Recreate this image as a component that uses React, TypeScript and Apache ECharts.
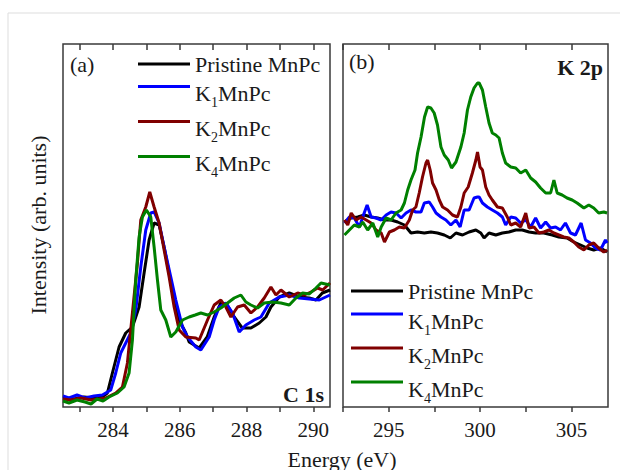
import React, { useEffect, useRef } from 'react';
import * as echarts from 'echarts';

// ---------- data ----------
const seriesNames = ['Pristine MnPc', 'K1MnPc', 'K2MnPc', 'K4MnPc'];

// C 1s panel (energy eV, intensity arb. units)
const c1sPristine: [number, number][] = [
  [282.5, 9], [282.83, 8], [283.13, 10], [283.43, 9], [283.67, 10], [283.83, 14], [283.98, 34],
  [284.18, 60], [284.38, 74], [284.58, 80], [284.78, 100], [284.93, 134], [285.08, 167], [285.23, 184],
  [285.38, 182], [285.53, 160], [285.68, 134], [285.83, 107], [285.98, 87], [286.18, 74], [286.28, 65],
  [286.58, 59], [286.82, 70], [287.03, 90], [287.23, 104], [287.42, 102], [287.63, 90], [287.87, 79],
  [288.13, 79], [288.38, 84], [288.58, 90], [288.73, 100], [288.98, 110], [289.28, 114], [289.58, 110],
  [289.88, 109], [290.08, 107], [290.27, 114], [290.5, 117],
];
const c1sK1: [number, number][] = [
  [282.5, 11], [282.68, 9], [282.92, 12], [283.16, 9], [283.43, 11], [283.68, 12], [283.93, 17],
  [284.08, 34], [284.23, 54], [284.38, 64], [284.53, 74], [284.68, 97], [284.83, 140], [284.98, 177],
  [285.13, 194], [285.23, 195], [285.38, 184], [285.53, 160], [285.73, 130], [285.88, 107], [286.08, 80],
  [286.23, 70], [286.48, 60], [286.63, 57], [286.88, 70], [287.03, 87], [287.18, 100], [287.38, 104],
  [287.58, 94], [287.78, 75], [287.98, 82], [288.23, 87], [288.43, 90], [288.68, 104], [288.98, 110],
  [289.28, 112], [289.58, 109], [289.88, 108], [290.18, 107], [290.5, 112],
];
const c1sK2: [number, number][] = [
  [282.5, 8], [282.74, 7], [283.04, 9], [283.34, 7], [283.58, 8], [283.78, 9], [284.08, 14],
  [284.28, 20], [284.43, 44], [284.58, 94], [284.73, 144], [284.83, 187], [284.98, 200], [285.1, 215],
  [285.23, 200], [285.38, 184], [285.53, 157], [285.68, 130], [285.83, 100], [285.98, 77], [286.18, 70],
  [286.48, 69], [286.58, 67], [286.83, 87], [287.03, 102], [287.23, 107], [287.38, 100], [287.53, 90],
  [287.73, 100], [287.93, 102], [288.13, 94], [288.33, 100], [288.53, 109], [288.73, 120], [288.88, 112],
  [289.03, 117], [289.28, 110], [289.53, 114], [289.73, 112], [289.93, 115], [290.13, 119], [290.28, 117],
  [290.5, 124],
];
const c1sK4: [number, number][] = [
  [282.5, 6], [282.68, 4], [282.92, 7], [283.16, 5], [283.34, 3], [283.52, 8], [283.7, 6], [283.88, 10],
  [284.13, 14], [284.33, 20], [284.48, 34], [284.58, 67], [284.68, 127], [284.78, 170], [284.88, 190],
  [285.0, 197], [285.13, 190], [285.23, 160], [285.33, 127], [285.43, 97], [285.58, 87], [285.73, 70],
  [285.88, 75], [286.08, 87], [286.28, 90], [286.46, 92], [286.63, 94], [286.83, 92], [287.03, 95],
  [287.23, 99], [287.43, 104], [287.63, 109], [287.83, 112], [287.98, 105], [288.13, 102], [288.33, 99],
  [288.53, 104], [288.78, 105], [289.03, 104], [289.28, 102], [289.48, 109], [289.68, 114], [289.88, 113],
  [290.08, 119], [290.23, 124], [290.5, 122],
];

// K 2p panel
const k2pPristine: [number, number][] = [
  [292.58, 185], [292.95, 189], [293.31, 190], [293.67, 192], [294.04, 190], [294.4, 189], [294.77, 187],
  [295.13, 187], [295.49, 185], [295.86, 182], [296.22, 174], [296.58, 175], [296.95, 174], [297.31, 175],
  [297.67, 174], [298.04, 172], [298.37, 169], [298.68, 174], [299.04, 172], [299.4, 175], [299.77, 177],
  [300.04, 174], [300.22, 169], [300.49, 174], [300.86, 172], [301.22, 174], [301.58, 175], [301.95, 177],
  [302.31, 177], [302.68, 175], [303.04, 174], [303.49, 174], [303.95, 172], [304.31, 170], [304.76, 169],
  [305.13, 165], [305.5, 162], [305.86, 159], [306.22, 157], [306.59, 159], [306.95, 155],
];
const k2pK1: [number, number][] = [
  [292.58, 184], [292.85, 190], [293.12, 189], [293.4, 180], [293.58, 190], [293.82, 202], [294.04, 190],
  [294.31, 189], [294.59, 187], [294.86, 192], [295.13, 195], [295.4, 194], [295.68, 189], [295.95, 194],
  [296.22, 197], [296.49, 195], [296.77, 195], [296.95, 204], [297.22, 205], [297.4, 200], [297.59, 194],
  [297.86, 190], [298.13, 187], [298.4, 182], [298.68, 187], [298.91, 180], [299.13, 197], [299.4, 197],
  [299.67, 209], [299.86, 210], [299.95, 210], [300.13, 204], [300.4, 200], [300.67, 197], [300.95, 194],
  [301.22, 190], [301.4, 182], [301.68, 190], [301.95, 189], [302.22, 184], [302.5, 187], [302.77, 180],
  [303.04, 189], [303.31, 179], [303.59, 185], [303.86, 179], [304.13, 180], [304.4, 177], [304.67, 184],
  [304.95, 174], [305.22, 172], [305.53, 184], [305.77, 167], [306.04, 164], [306.31, 159], [306.59, 157],
  [306.86, 167], [306.95, 164],
];
const k2pK2: [number, number][] = [
  [292.58, 187], [292.76, 182], [292.95, 194], [293.22, 187], [293.49, 190], [293.77, 187], [294.04, 184],
  [294.31, 177], [294.59, 174], [294.77, 165], [295.04, 175], [295.31, 177], [295.58, 180], [295.86, 179],
  [296.13, 187], [296.31, 197], [296.49, 200], [296.67, 214], [296.85, 230], [297.04, 244], [297.13, 247],
  [297.27, 237], [297.4, 224], [297.59, 217], [297.77, 207], [297.95, 200], [298.22, 197], [298.49, 192],
  [298.76, 190], [298.95, 200], [299.13, 214], [299.35, 220], [299.58, 234], [299.77, 247], [299.86, 255],
  [300.0, 240], [300.13, 237], [300.31, 220], [300.49, 212], [300.67, 207], [300.95, 200], [301.22, 199],
  [301.49, 190], [301.68, 182], [301.95, 184], [302.22, 180], [302.5, 194], [302.68, 179], [302.95, 180],
  [303.22, 174], [303.49, 175], [303.77, 177], [304.04, 174], [304.31, 172], [304.58, 170], [304.86, 169],
  [305.13, 165], [305.4, 160], [305.68, 157], [305.95, 162], [306.22, 164], [306.49, 159], [306.77, 155],
  [306.95, 157],
];
const k2pK4: [number, number][] = [
  [292.58, 172], [292.85, 177], [293.12, 182], [293.4, 180], [293.58, 185], [293.85, 177], [294.13, 184],
  [294.4, 170], [294.59, 180], [294.86, 189], [295.13, 187], [295.4, 194], [295.68, 197], [295.86, 204],
  [296.04, 217], [296.22, 227], [296.44, 237], [296.58, 254], [296.77, 270], [296.96, 290], [297.13, 300],
  [297.31, 299], [297.49, 294], [297.67, 282], [297.86, 260], [298.04, 252], [298.26, 247], [298.44, 239],
  [298.68, 245], [298.95, 260], [299.13, 274], [299.31, 297], [299.49, 310], [299.67, 319], [299.86, 324],
  [299.95, 324], [300.13, 317], [300.31, 300], [300.49, 284], [300.67, 274], [300.86, 272], [301.04, 269],
  [301.22, 254], [301.4, 244], [301.68, 240], [301.95, 239], [302.22, 234], [302.5, 237], [302.77, 229],
  [303.04, 225], [303.31, 219], [303.59, 214], [303.86, 214], [304.04, 227], [304.22, 214], [304.49, 212],
  [304.76, 209], [305.04, 207], [305.31, 204], [305.68, 199], [305.95, 202], [306.22, 199], [306.49, 194],
  [306.77, 195], [306.95, 194],
];

// axes
const c1sRange = [282.5, 290.5];
const c1sLabelValues = [284, 286, 288, 290];
const c1sTickValues = [283, 284, 285, 286, 287, 288, 289, 290];
const k2pRange = [292.5, 307];
const k2pLabelValues = [295, 300, 305];
const k2pTickValues = [292.5, 295, 297.5, 300, 302.5, 305];
const intensityRange = [0, 363];

// ---------- styles ----------
const colors = ['#000000', '#0000ff', '#800000', '#008000'];
const FONT = 'Liberation Serif';
const TXT = '#1a1a1a';
const FRAME = '#3a3a3a';

export default function App() {
  const ref = useRef<HTMLDivElement>(null);
  useEffect(() => {
    if (!ref.current) return;
    const chart = echarts.init(ref.current, undefined, { renderer: 'svg' });

    const rich = {
      n: { fontSize: 22, lineHeight: 24, fontFamily: FONT, color: TXT },
      k: { fontSize: 22, lineHeight: 24, fontFamily: FONT, color: TXT, verticalAlign: 'top', padding: [8, 0, 0, 0] },
      s: { fontSize: 14, lineHeight: 14, fontFamily: FONT, color: TXT, verticalAlign: 'top', padding: [21, 0, 0, 0] },
    };
    const fmt = (name: string) => {
      const m = name.match(/^K(\d)MnPc$/);
      return m ? `{k|K}{s|${m[1]}}{k|MnPc}` : `{n|${name}}`;
    };
    const legendRow = (name: string, left: number, top: number) => ({
      data: [name],
      left,
      top,
      orient: 'vertical',
      padding: 0,
      itemGap: 0,
      itemWidth: 52,
      itemHeight: 3,
      icon: 'rect',
      selectedMode: false,
      formatter: fmt,
      textStyle: { fontFamily: FONT, fontSize: 22, color: TXT, rich },
    });
    const leftRowsCenter = [65, 92, 127, 162];
    const rightRowsCenter = [292, 319.5, 353.5, 387.5];
    const topOf = (i: number, c: number) => (i === 0 ? c - 12 : c - 17.5);
    const legends = [
      ...seriesNames.map((n, i) => legendRow(n, 138, topOf(i, leftRowsCenter[i]))),
      ...seriesNames.map((n, i) => legendRow(n, 351, topOf(i, rightRowsCenter[i]))),
    ];

    const bottomAxis = (grid: number, range: number[], ticks: number[], labels: number[]) => ({
      type: 'value',
      gridIndex: grid,
      position: 'bottom',
      min: range[0],
      max: range[1],
      axisLine: { show: false },
      splitLine: { show: false },
      axisTick: { show: true, inside: false, length: 5, customValues: ticks, lineStyle: { color: FRAME, width: 1.5 } },
      axisLabel: { show: true, customValues: labels, margin: 12, fontSize: 21, fontFamily: FONT, color: TXT },
    });
    const topAxis = (grid: number, range: number[], ticks: number[]) => ({
      type: 'value',
      gridIndex: grid,
      position: 'top',
      min: range[0],
      max: range[1],
      axisLine: { show: false },
      splitLine: { show: false },
      axisTick: { show: true, inside: true, length: 6, customValues: ticks, lineStyle: { color: FRAME, width: 1.5 } },
      axisLabel: { show: false },
    });
    const yAxis = (grid: number) => ({
      type: 'value',
      gridIndex: grid,
      min: intensityRange[0],
      max: intensityRange[1],
      axisLine: { show: false },
      axisTick: { show: false },
      axisLabel: { show: false },
      splitLine: { show: false },
    });

    const mk = (data: [number, number][], i: number, grid: number) => ({
      type: 'line',
      name: seriesNames[i],
      xAxisIndex: grid * 2,
      yAxisIndex: grid,
      data,
      showSymbol: false,
      symbol: 'none',
      clip: true,
      lineStyle: { width: 3, color: colors[i] },
      itemStyle: { color: colors[i] },
    });

    chart.setOption({
      animation: false,
      backgroundColor: '#ffffff',
      color: colors,
      grid: [
        { left: 63, top: 44, width: 267, height: 363, show: true, borderColor: FRAME, borderWidth: 1.5, backgroundColor: 'transparent' },
        { left: 343, top: 44, width: 265, height: 363, show: true, borderColor: FRAME, borderWidth: 1.5, backgroundColor: 'transparent' },
      ],
      xAxis: [
        bottomAxis(0, c1sRange, c1sTickValues, c1sLabelValues),
        topAxis(0, c1sRange, c1sTickValues),
        bottomAxis(1, k2pRange, k2pTickValues, k2pLabelValues),
        topAxis(1, k2pRange, k2pTickValues),
      ],
      yAxis: [yAxis(0), yAxis(1)],
      legend: legends,
      series: [
        ...[c1sPristine, c1sK1, c1sK2, c1sK4].map((d, i) => mk(d, i, 0)),
        ...[k2pPristine, k2pK1, k2pK2, k2pK4].map((d, i) => mk(d, i, 1)),
      ],
      graphic: [
        { type: 'rect', silent: true, shape: { x: 8, y: 13, width: 700, height: 600 }, style: { fill: 'none', stroke: '#dddddd', lineWidth: 1 } },
        { type: 'text', x: 70, y: 64, style: { text: '(a)', fontSize: 22, fontFamily: FONT, fill: TXT, align: 'left', verticalAlign: 'middle' } },
        { type: 'text', x: 349, y: 61, style: { text: '(b)', fontSize: 22, fontFamily: FONT, fill: TXT, align: 'left', verticalAlign: 'middle' } },
        { type: 'text', x: 603, y: 67, style: { text: 'K 2p', fontSize: 22, fontWeight: 'bold', fontFamily: FONT, fill: TXT, align: 'right', verticalAlign: 'middle' } },
        { type: 'text', x: 324, y: 394, style: { text: 'C 1s', fontSize: 22, fontWeight: 'bold', fontFamily: FONT, fill: TXT, align: 'right', verticalAlign: 'middle' } },
        { type: 'text', x: 342, y: 459, style: { text: 'Energy (eV)', fontSize: 22, fontFamily: FONT, fill: TXT, align: 'center', verticalAlign: 'middle' } },
        { type: 'text', x: 38, y: 225, rotation: Math.PI / 2, style: { text: 'Intensity (arb. units)', fontSize: 22, fontFamily: FONT, fill: TXT, align: 'center', verticalAlign: 'middle' } },
      ],
    });
    return () => chart.dispose();
  }, []);
  return <div ref={ref} style={{ position: 'fixed', left: 0, top: 0, width: 620, height: 470 }} />;
}
